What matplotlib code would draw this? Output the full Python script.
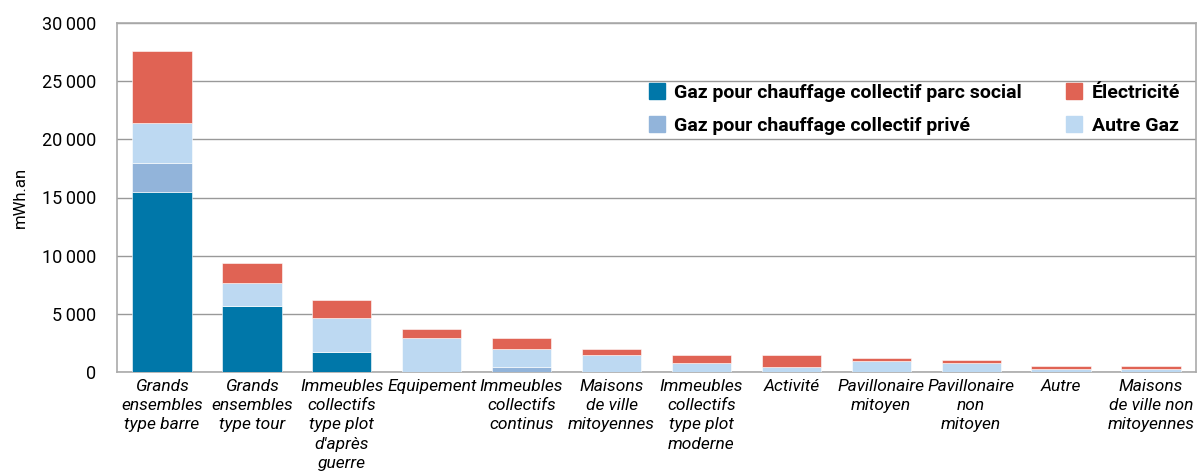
import matplotlib
matplotlib.use("Agg")
import matplotlib.pyplot as plt
import numpy as np
from matplotlib.ticker import FuncFormatter
from matplotlib.lines import Line2D

categories = [
    "Grands\nensembles\ntype barre",
    "Grands\nensembles\ntype tour",
    "Immeubles\ncollectifs\ntype plot\nd'après\nguerre",
    "Equipement",
    "Immeubles\ncollectifs\ncontinus",
    "Maisons\nde ville\nmitoyennes",
    "Immeubles\ncollectifs\ntype plot\nmoderne",
    "Activité",
    "Pavillonaire\nmitoyen",
    "Pavillonaire\nnon\nmitoyen",
    "Autre",
    "Maisons\nde ville non\nmitoyennes",
]
gaz_social = [15500, 5700, 1700, 0, 0, 0, 0, 0, 0, 0, 0, 0]
gaz_prive = [2500, 0, 0, 0, 450, 0, 0, 0, 0, 0, 0, 0]
autre_gaz = [3400, 1950, 2950, 2900, 1550, 1450, 750, 450, 970, 750, 230, 230]
electricite = [6200, 1750, 1550, 800, 950, 550, 700, 1000, 260, 250, 270, 270]

series_names = ["Gaz pour chauffage collectif parc social",
                "Gaz pour chauffage collectif privé",
                "Électricité", "Autre Gaz"]
colors = {"social": "#0077A9", "prive": "#92B4DA", "autre": "#BDD9F2", "elec": "#E06354"}

plt.rcParams['font.family'] = ['Roboto', 'DejaVu Sans']

fig = plt.figure(figsize=(11.97, 4.75), dpi=100)
ax = fig.add_axes([117/1197, 1-372/475, (1196-117)/1197, (372-23)/475])

x = np.arange(len(categories))
w = 0.66
b = np.zeros(len(categories))
for vals, key in [(gaz_social, "social"), (gaz_prive, "prive"), (autre_gaz, "autre"), (electricite, "elec")]:
    v = np.array(vals, dtype=float)
    ax.bar(x, v, w, bottom=b, color=colors[key], edgecolor="white", linewidth=0.4, zorder=3)
    b += v

ax.set_xlim(-0.5, len(categories) - 0.5)
ax.set_ylim(0, 30000)
ax.set_yticks(np.arange(0, 30001, 5000))
ax.yaxis.set_major_formatter(FuncFormatter(lambda v, p: f"{int(v):,}".replace(",", "\u2009")))
ax.grid(axis="y", color="#999999", linewidth=1.0, zorder=0)
ax.set_axisbelow(True)
for s in ax.spines.values():
    s.set_color("#AAAAAA")
    s.set_linewidth(1.2)
ax.tick_params(axis="y", length=0, labelsize=13, pad=15)
ax.tick_params(axis="x", length=0, pad=5)
ax.set_xticks(x)
ax.set_xticklabels(categories, fontsize=12.5, style="italic", linespacing=1.35, va="top")
ax.set_ylabel("mWh.an", fontsize=12)
ax.yaxis.set_label_coords(-0.083, 0.5)

handles = [Line2D([], [], marker="s", linestyle="none", markersize=12, color=colors[k])
           for k in ["social", "prive", "elec", "autre"]]
leg = ax.legend(handles, series_names, ncol=2, frameon=False, loc="upper left",
                bbox_to_anchor=(0.475, 0.875), prop={"size": 14, "weight": "bold"},
                handletextpad=0.4, columnspacing=2.2, labelspacing=0.75, handlelength=1.0)

fig.savefig("out.png", dpi=100)
